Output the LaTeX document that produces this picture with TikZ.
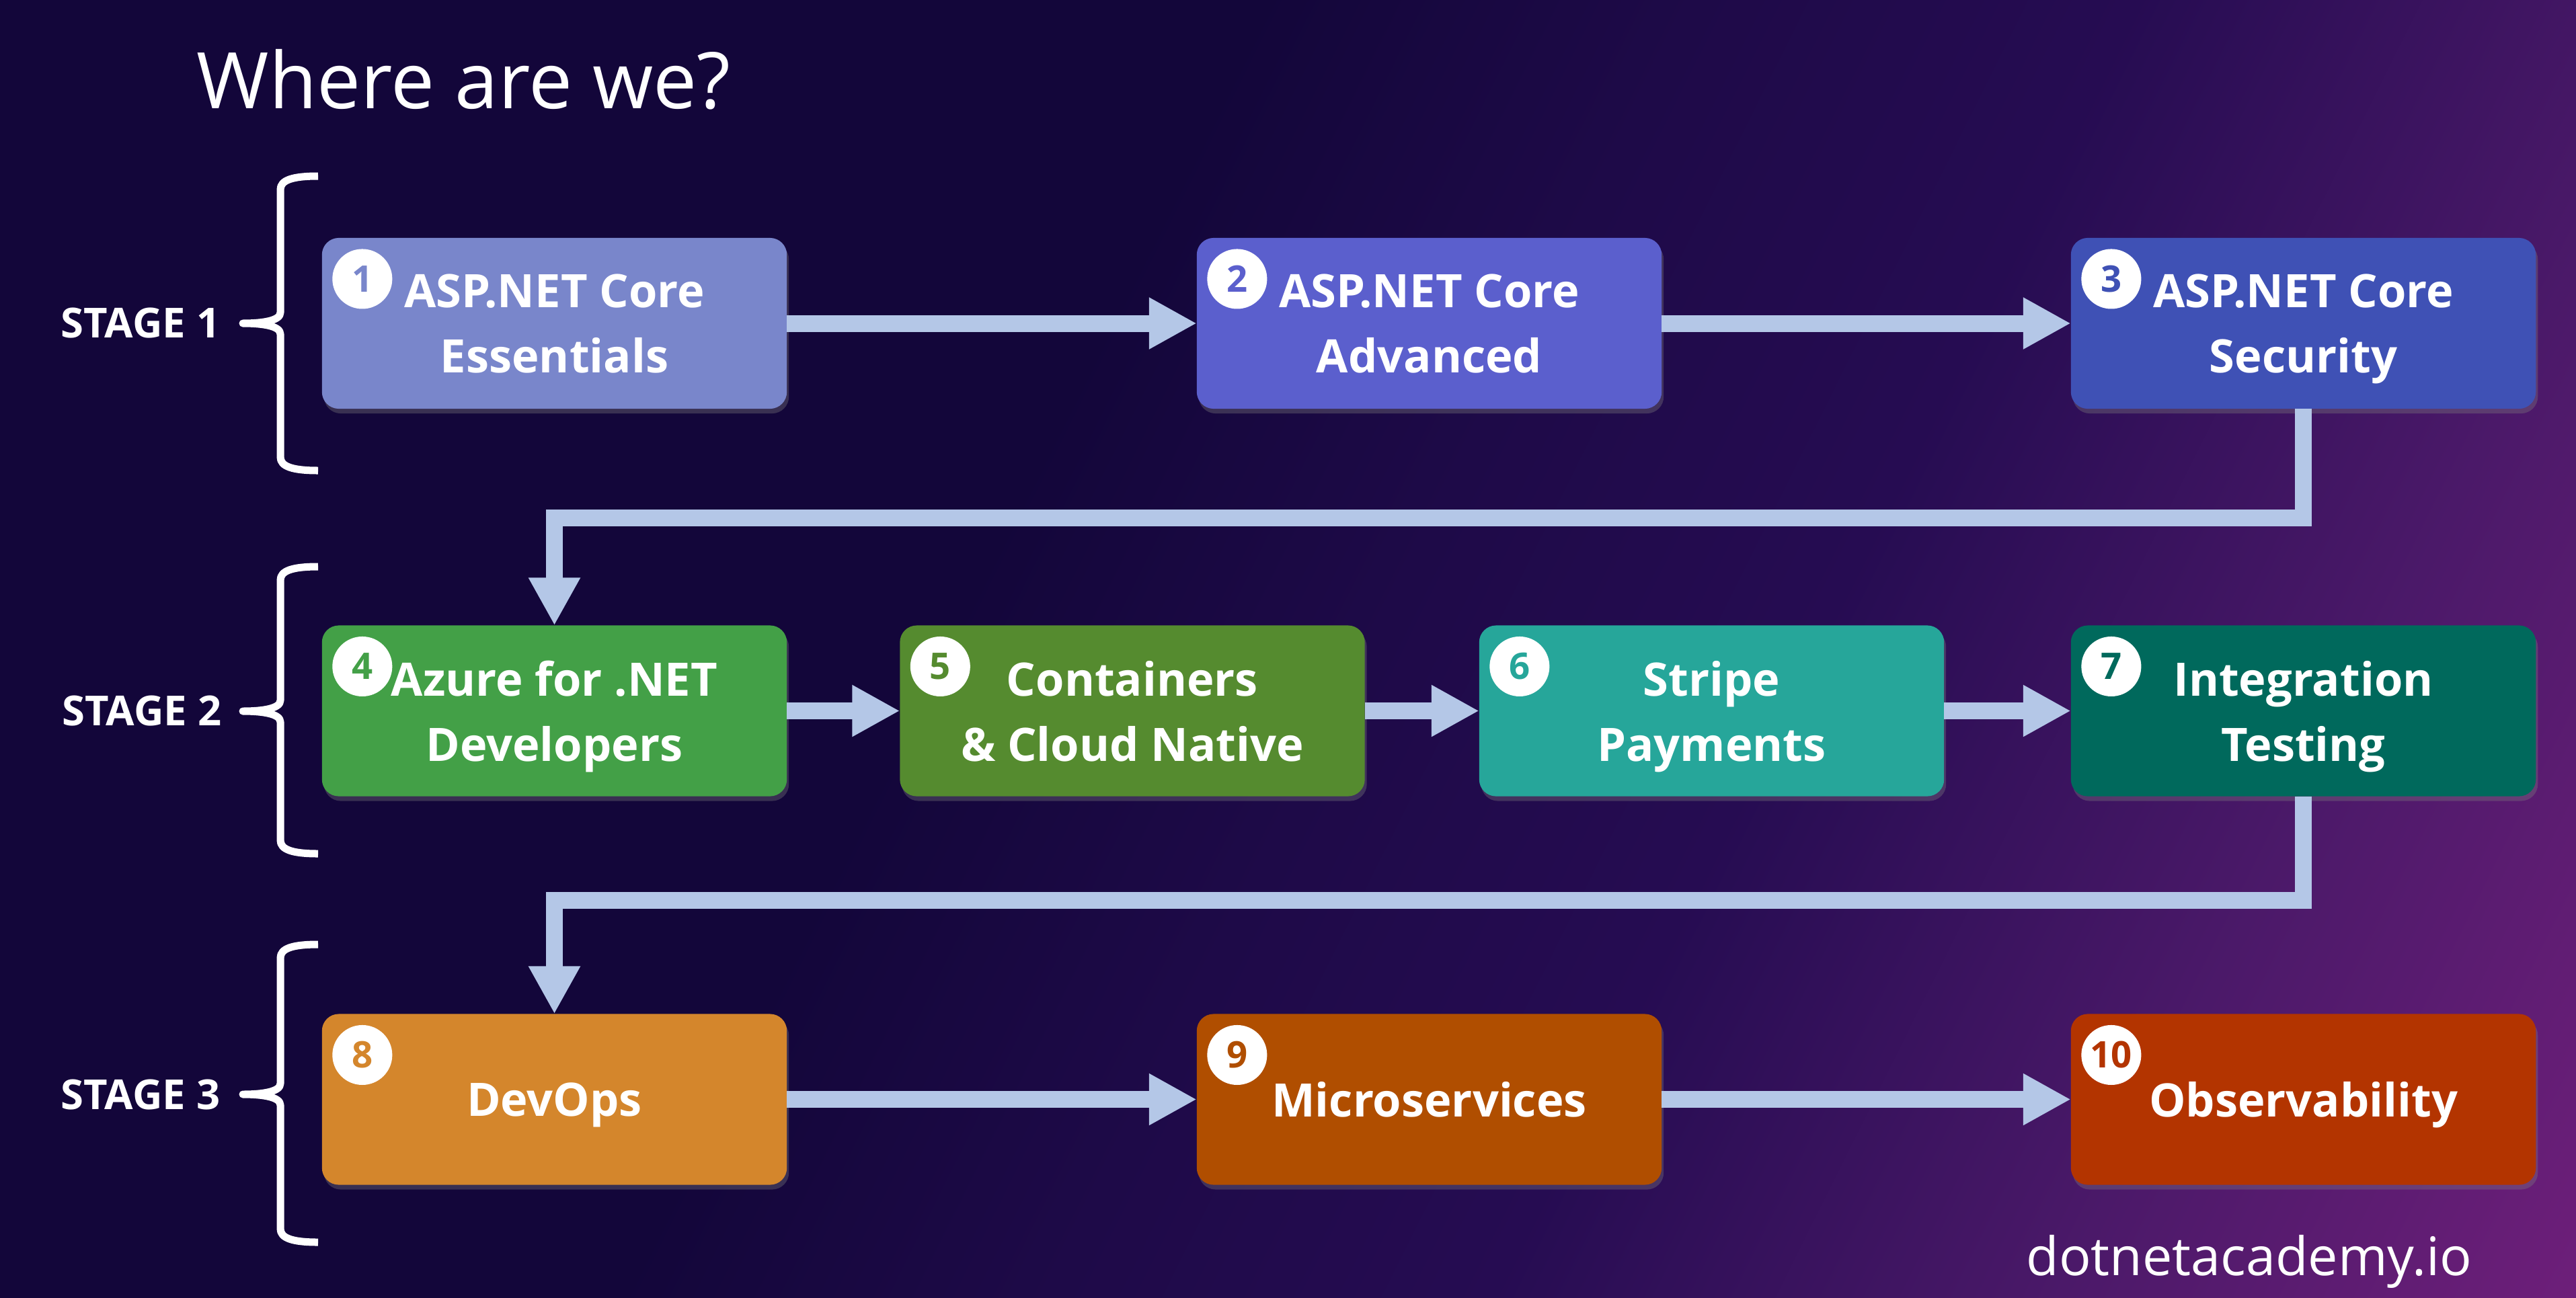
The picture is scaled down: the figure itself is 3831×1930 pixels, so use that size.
\documentclass[tikz,border=0pt]{standalone}
\usepackage{fontspec}
\setmainfont{Open Sans}
\usetikzlibrary{arrows.meta,shadows}
% Couleurs
\definecolor{fondA}{HTML}{13063A}
\definecolor{fondB}{HTML}{1E0A48}
\definecolor{fondC}{HTML}{260C52}
\definecolor{fondD}{HTML}{4B1969}
\definecolor{fondE}{HTML}{6E1F7A}
\definecolor{couleurFleche}{HTML}{B4C7E7}
\definecolor{coulA}{HTML}{7986CB}
\definecolor{coulB}{HTML}{5B5FCD}
\definecolor{coulC}{HTML}{3F51B5}
\definecolor{coulD}{HTML}{43A047}
\definecolor{coulE}{HTML}{558B2F}
\definecolor{coulF}{HTML}{26A69A}
\definecolor{coulG}{HTML}{00695C}
\definecolor{coulH}{HTML}{D4862C}
\definecolor{coulI}{HTML}{B04E00}
\definecolor{coulJ}{HTML}{B33400}
% Degrade du fond
\pgfdeclarehorizontalshading{fond}{100bp}{color(0bp)=(fondA); color(46bp)=(fondA); color(51bp)=(fondB); color(56bp)=(fondC); color(62.5bp)=(fondD); color(68.5bp)=(fondE); color(100bp)=(fondE)}
\begin{document}
\begin{tikzpicture}[x=0.01cm,y=-0.01cm]
% Styles
\tikzstyle{boite}=[rectangle,rounded corners=0.25cm,minimum width=6.91cm,minimum height=2.54cm,inner sep=0pt,outer sep=0pt,text=white,align=center,text depth=0pt,font=\bfseries\fontsize{19.5}{27.6}\selectfont,drop shadow={shadow xshift=0.03cm,shadow yshift=-0.07cm,opacity=0.35}]
\tikzstyle{numero}=[circle,fill=white,minimum size=0.89cm,inner sep=0pt,font=\bfseries\fontsize{15.5}{16}\selectfont]
\tikzstyle{fleche}=[-{Triangle[length=0.71cm,width=0.72cm]},line width=0.25cm,draw=couleurFleche,line join=miter]
\tikzstyle{etape}=[anchor=east,inner sep=0pt,text=white,font=\bfseries\fontsize{17.5}{20}\selectfont]
\tikzstyle{accolade}=[white,line width=0.11cm,line join=round]
% Cadre et fond
\useasboundingbox (0,0) rectangle (3831,1930);
\begin{scope}
\clip (0,0) rectangle (3831,1930);
\begin{scope}[transform canvas={rotate around={-26.5:(1915.5,965)}}]
\shade[shading=fond] (-1000,-1000) rectangle (4831,2930);
\end{scope}
\end{scope}
% Titre et site
\node[anchor=base west,inner sep=0pt,text=white,font=\fontsize{33}{40}\selectfont] (titre) at (292,161) {Where are we?};
\node[anchor=base east,inner sep=0pt,text=white,font=\fontsize{22.5}{27}\selectfont] (site) at (3677,1897) {dotnetacademy.io};
% Etapes
\node[etape] (e1) at (328,481) {STAGE 1};
\node[etape] (e2) at (330,1058) {STAGE 2};
\node[etape] (e3) at (328,1628) {STAGE 3};
\draw[accolade] (473,262) .. controls +(-38,0) and +(0,-14) .. (417,282) -- (417,465) .. controls +(0,12) and +(30,0) .. (361,481) .. controls +(30,0) and +(0,-12) .. (417,497) -- (417,680) .. controls +(0,14) and +(-38,0) .. (473,700);
\draw[accolade] (473,843) .. controls +(-38,0) and +(0,-14) .. (417,863) -- (417,1042) .. controls +(0,12) and +(30,0) .. (361,1058) .. controls +(30,0) and +(0,-12) .. (417,1074) -- (417,1250) .. controls +(0,14) and +(-38,0) .. (473,1270);
\draw[accolade] (473,1405) .. controls +(-38,0) and +(0,-14) .. (417,1425) -- (417,1612) .. controls +(0,12) and +(30,0) .. (361,1628) .. controls +(30,0) and +(0,-12) .. (417,1644) -- (417,1828) .. controls +(0,14) and +(-38,0) .. (473,1848);
% Ligne 1
\node[boite,fill=coulA] (b1) at (824.5,481) {ASP.NET Core\\Essentials};
\node[boite,fill=coulB] (b2) at (2125.5,481) {ASP.NET Core\\Advanced};
\node[boite,fill=coulC] (b3) at (3425.5,481) {ASP.NET Core\\Security};
% Ligne 2
\node[boite,fill=coulD] (b4) at (824.5,1057.5) {Azure for .NET\\Developers};
\node[boite,fill=coulE] (b5) at (1684,1057.5) {Containers\\\& Cloud Native};
\node[boite,fill=coulF] (b6) at (2545.5,1057.5) {Stripe\\Payments};
\node[boite,fill=coulG] (b7) at (3425.5,1057.5) {Integration\\Testing};
% Ligne 3
\node[boite,fill=coulH] (b8) at (824.5,1635.5) {DevOps};
\node[boite,fill=coulI] (b9) at (2125.5,1635.5) {Microservices};
\node[boite,fill=coulJ] (b10) at (3425.5,1635.5) {Observability};
% Numeros
\node[numero,text=coulA] (n1) at ([xshift=0.6cm,yshift=-0.61cm]b1.north west) {1};
\node[numero,text=coulB] (n2) at ([xshift=0.6cm,yshift=-0.61cm]b2.north west) {2};
\node[numero,text=coulC] (n3) at ([xshift=0.6cm,yshift=-0.61cm]b3.north west) {3};
\node[numero,text=coulD] (n4) at ([xshift=0.6cm,yshift=-0.61cm]b4.north west) {4};
\node[numero,text=coulE] (n5) at ([xshift=0.6cm,yshift=-0.61cm]b5.north west) {5};
\node[numero,text=coulF] (n6) at ([xshift=0.6cm,yshift=-0.61cm]b6.north west) {6};
\node[numero,text=coulG] (n7) at ([xshift=0.6cm,yshift=-0.61cm]b7.north west) {7};
\node[numero,text=coulH] (n8) at ([xshift=0.6cm,yshift=-0.61cm]b8.north west) {8};
\node[numero,text=coulI] (n9) at ([xshift=0.6cm,yshift=-0.61cm]b9.north west) {9};
\node[numero,text=coulJ] (n10) at ([xshift=0.6cm,yshift=-0.61cm]b10.north west) {10};
% Fleches
\coordinate (c3) at (3425.5,770);
\coordinate (c7) at (3425.5,1339);
\draw[fleche] (b1) -- (b2);
\draw[fleche] (b2) -- (b3);
\draw[fleche] (b3.south) -- (c3) -| (b4.north);
\draw[fleche] (b4) -- (b5);
\draw[fleche] (b5) -- (b6);
\draw[fleche] (b6) -- (b7);
\draw[fleche] (b7.south) -- (c7) -| (b8.north);
\draw[fleche] (b8) -- (b9);
\draw[fleche] (b9) -- (b10);
\end{tikzpicture}
\end{document}
